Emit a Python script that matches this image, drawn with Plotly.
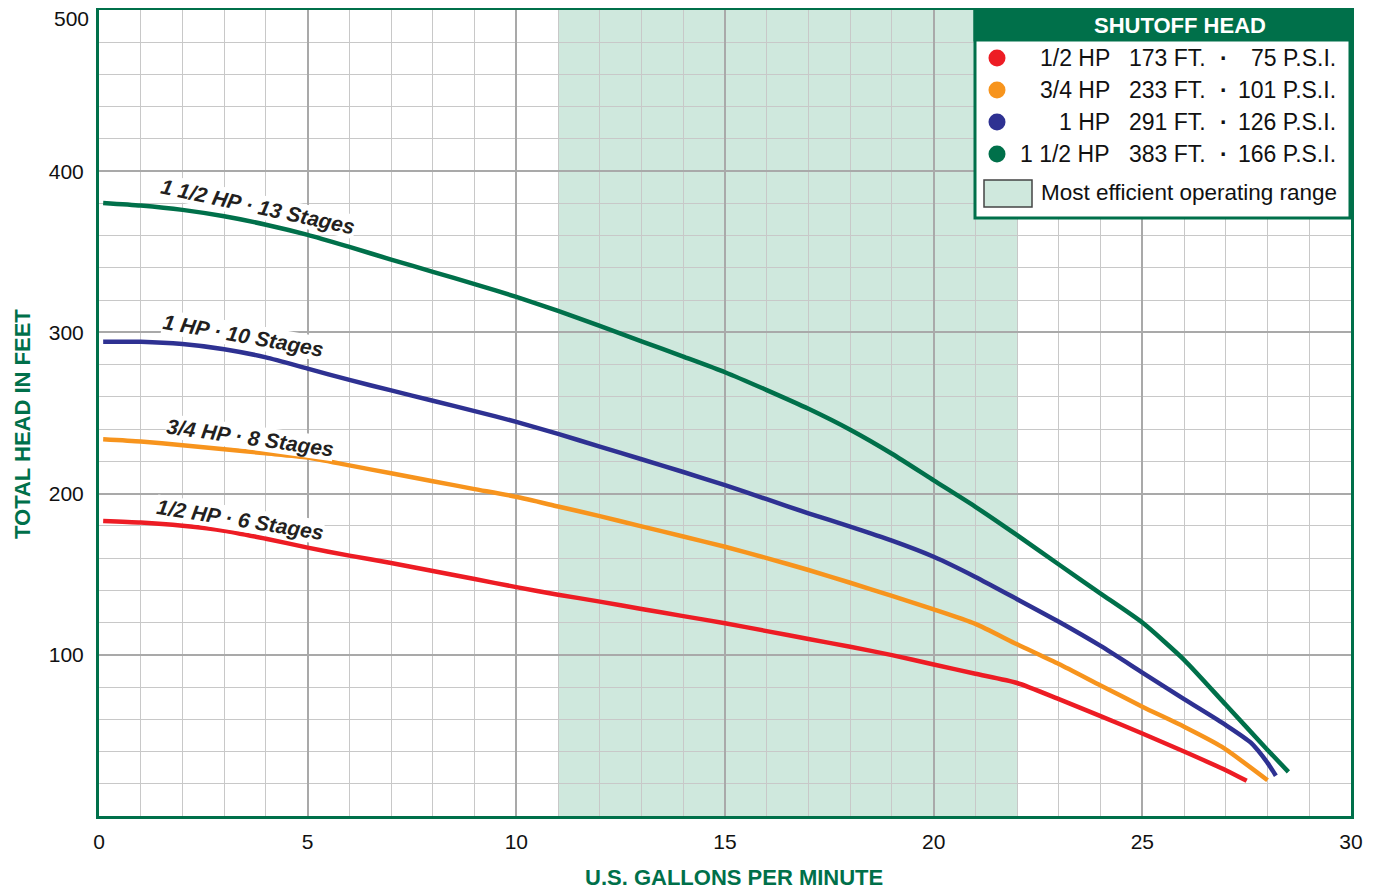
import plotly.graph_objects as go

# ---------------- data ----------------
gpm_half = [0.1, 1, 2, 3, 4, 5, 6, 7, 8, 9, 10, 11, 12, 13, 14, 15, 16, 17, 18, 19, 20, 21, 22, 23, 24, 25, 26, 27, 27.5]
head_half = [183, 182, 180, 177, 172, 166.5, 161.5, 157, 152, 147, 142, 137.3, 133, 128.4, 124, 119.6, 114.7, 109.8, 105, 99.8, 94, 88.2, 82.5, 72.5, 62, 51.2, 40, 28.4, 21.8]

gpm_3q = [0.1, 1, 2, 3, 4, 5, 6, 7, 8, 9, 10, 11, 12, 13, 14, 15, 16, 17, 18, 19, 20, 21, 22, 23, 24, 25, 26, 26.9, 28]
head_3q = [233.7, 232.3, 230, 227.5, 225, 222.4, 217.5, 212.6, 207.7, 202.8, 198, 192, 186, 179.7, 173.4, 167, 160, 152.6, 144.7, 136.5, 128.2, 119.2, 106.5, 94.3, 81, 67.8, 55.4, 43, 22.2]

gpm_1 = [0.1, 1, 2, 3, 4, 5, 6, 7, 8, 9, 10, 11, 12, 13, 14, 15, 16, 17, 18, 19, 20, 21, 22, 23, 24, 25, 26, 27, 27.6, 28, 28.2]
head_1 = [294.2, 294.2, 292.8, 289.6, 284.5, 277.5, 270.5, 264, 257.6, 251.2, 244.5, 237, 229.2, 221.3, 213.4, 205.2, 196.5, 187.8, 179.5, 170.8, 160.8, 148.3, 134.5, 120.5, 105.5, 89, 72.5, 56.4, 45.5, 33, 25]

gpm_15 = [0.1, 1, 2, 3, 4, 5, 6, 7, 8, 9, 10, 11, 12, 13, 14, 15, 16, 17, 18, 19, 20, 21, 22, 23, 24, 25, 26, 27, 28, 28.5]
head_15 = [380.3, 378.7, 376, 372, 366.8, 360.5, 353, 345.2, 337.6, 330, 322, 313.4, 304, 294.5, 285, 275.3, 264.2, 252.6, 239.6, 224.7, 208.2, 191.8, 174.2, 156, 138, 120, 96.9, 69, 41, 27.4]

curve_names = ["1/2 HP · 6 Stages", "3/4 HP · 8 Stages", "1 HP · 10 Stages", "1 1/2 HP · 13 Stages"]
curve_colors = ["#ED1C24", "#F7941D", "#2E3192", "#00704A"]
label_x = [3.38, 3.62, 3.47, 3.81]
label_y = [184, 235, 298, 378]
label_angle = [9, 8, 10, 12]

legend_hp = ["1/2 HP", "3/4 HP", "1 HP", "1 1/2 HP"]
legend_ft = ["173 FT.", "233 FT.", "291 FT.", "383 FT."]
legend_psi = ["75 P.S.I.", "101 P.S.I.", "126 P.S.I.", "166 P.S.I."]

efficient_range = [11, 22]

x_ticks = [0, 5, 10, 15, 20, 25, 30]
y_ticks = [100, 200, 300, 400, 500]

# ---------------- style ----------------
GREEN = "#00704A"
SHADE = "#CFE8DD"
FONT = "Liberation Sans, Arial, sans-serif"
OFF = 8                      # default page body margin
W, H = 1377 - OFF, 893 - OFF
PL, PR, PT, PB = 99, 1351, 10, 816   # plot area in page pixels
L, R, T, B = PL - OFF, W - (PR - OFF), PT - OFF, H - (PB - OFF)
PW, PH = PR - PL, PB - PT


def px(x):
    return (x - PL) / PW


def py(y):
    return (PB - y) / PH


fig = go.Figure()

series = [(gpm_half, head_half), (gpm_3q, head_3q), (gpm_1, head_1), (gpm_15, head_15)]
for (xs, ys), name, col in zip(series, curve_names, curve_colors):
    fig.add_trace(go.Scatter(x=xs, y=ys, mode="lines", name=name,
                             line=dict(color=col, width=4.5, shape="spline", smoothing=0.6),
                             showlegend=False, hoverinfo="skip"))

shapes = []
shapes.append(dict(type="rect", xref="x", yref="y", x0=efficient_range[0], x1=efficient_range[1],
                   y0=0, y1=500, fillcolor=SHADE, line=dict(width=0), layer="below"))

annotations = []
for name, lx, ly, ang in zip(curve_names, label_x, label_y, label_angle):
    annotations.append(dict(x=lx, y=ly, xref="x", yref="y", text="<b><i>" + name + "</i></b>",
                            showarrow=False, textangle=ang, bgcolor="white",
                            xanchor="center", yanchor="middle",
                            font=dict(family=FONT, size=21, color="#231F20"),
                            borderpad=0))

# top y tick label sits a little lower than its grid line (as in the original)
annotations.append(dict(x=0, y=y_ticks[-1], xref="paper", yref="y", text=str(y_ticks[-1]),
                        showarrow=False, xanchor="right", yanchor="middle",
                        xshift=-8, yshift=-8,
                        font=dict(family=FONT, size=21, color="#111")))

# axis titles
annotations.append(dict(x=px(734), y=py(877), xref="paper", yref="paper",
                        xanchor="center", yanchor="middle",
                        text="<b>U.S. GALLONS PER MINUTE</b>", showarrow=False,
                        font=dict(family=FONT, size=22, color=GREEN)))
annotations.append(dict(x=px(22), y=py(424), xref="paper", yref="paper",
                        xanchor="center", yanchor="middle",
                        text="<b>TOTAL HEAD IN FEET</b>", showarrow=False, textangle=-90,
                        font=dict(family=FONT, size=22, color=GREEN)))

# ---------------- legend box ----------------
bx0, bx1, by0, by1 = 975, 1350, 9, 218
shapes.append(dict(type="rect", xref="paper", yref="paper", x0=px(bx0), x1=px(bx1),
                   y0=py(by1), y1=py(by0), fillcolor="white", line=dict(color=GREEN, width=3), layer="above"))
shapes.append(dict(type="rect", xref="paper", yref="paper", x0=px(bx0), x1=px(bx1),
                   y0=py(40), y1=py(by0), fillcolor=GREEN, line=dict(color=GREEN, width=3), layer="above"))
annotations.append(dict(x=px(1180), y=py(25), xref="paper", yref="paper",
                        xanchor="center", yanchor="middle",
                        text="<b>SHUTOFF HEAD</b>", showarrow=False,
                        font=dict(family=FONT, size=22, color="white")))
row_y = [58, 90, 122, 154]
for hp, ft, psi, col, ry in zip(legend_hp, legend_ft, legend_psi, curve_colors, row_y):
    r = 8.5
    shapes.append(dict(type="circle", xref="paper", yref="paper",
                       x0=px(997 - r), x1=px(997 + r), y0=py(ry + r), y1=py(ry - r),
                       fillcolor=col, line=dict(width=0), layer="above"))
    for txt, xx, anc in [(hp, 1112, "right"), (ft, 1208, "right"), ("<b>·</b>", 1224, "center"),
                         (psi, 1338, "right")]:
        annotations.append(dict(x=px(xx), y=py(ry), xref="paper", yref="paper", text=txt,
                                showarrow=False, xanchor=anc, yanchor="middle",
                                font=dict(family=FONT, size=23, color="#111")))
shapes.append(dict(type="rect", xref="paper", yref="paper", x0=px(984), x1=px(1032),
                   y0=py(207), y1=py(180), fillcolor=SHADE, line=dict(color="#444", width=1.5),
                   layer="above"))
annotations.append(dict(x=px(1039), y=py(193), xref="paper", yref="paper",
                        text="Most efficient operating range", showarrow=False,
                        xanchor="left", yanchor="middle",
                        font=dict(family=FONT, size=22.5, color="#111")))

fig.update_layout(
    width=W, height=H,
    margin=dict(l=L, r=R, t=T, b=B, autoexpand=False),
    paper_bgcolor="white", plot_bgcolor="white",
    shapes=shapes, annotations=annotations,
    font=dict(family=FONT, color="#111"),
    xaxis=dict(range=[0, 30], tickvals=x_ticks, showgrid=True, gridcolor="#A9A9A9", gridwidth=1.5,
               minor=dict(dtick=1, showgrid=True, gridcolor="#C8C8C8", gridwidth=1),
               showline=True, linecolor=GREEN, linewidth=3, mirror=True, zeroline=False,
               ticks="", ticklabelstandoff=5, automargin=False, ticklabeloverflow="allow",
               tickfont=dict(family=FONT, size=21, color="#111")),
    yaxis=dict(range=[0, 500], tickvals=y_ticks,
               ticktext=[str(v) for v in y_ticks[:-1]] + [""],
               showgrid=True, gridcolor="#A9A9A9", gridwidth=1.5,
               minor=dict(dtick=20, showgrid=True, gridcolor="#C8C8C8", gridwidth=1),
               showline=True, linecolor=GREEN, linewidth=3, mirror=True, zeroline=False,
               ticks="", ticklabelstandoff=8, automargin=False, ticklabeloverflow="allow",
               tickfont=dict(family=FONT, size=21, color="#111")),
)

fig.write_html("out.html")
